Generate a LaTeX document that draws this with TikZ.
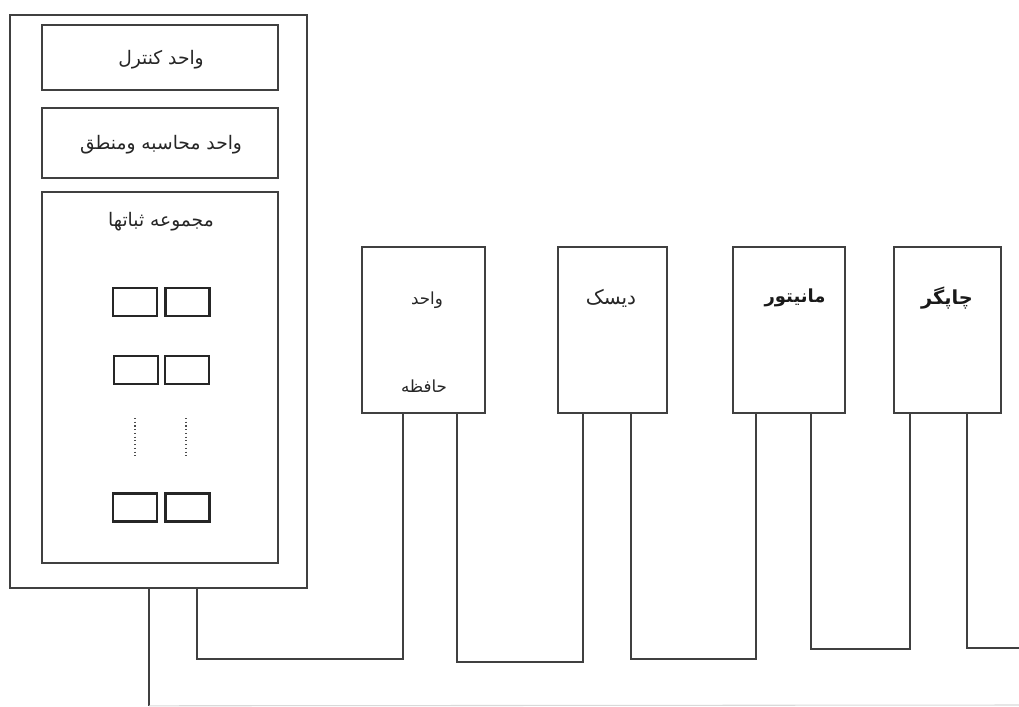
\documentclass[tikz,border=0pt]{standalone}
\usepackage{fontspec}
\newfontfamily\arabicfont[Script=Arabic]{DejaVu Sans}
\TeXXeTstate=1
\usetikzlibrary{calc}
\tikzset{
  box/.style={draw=black!75, line width=1.2pt, rectangle, inner sep=0pt, anchor=center},
  reg/.style={draw=black!85, line width=2pt, rectangle, inner sep=0pt, minimum width=33pt, minimum height=21pt},
  wire/.style={draw=black!75, line width=1.2pt},
  faint/.style={draw=black!15, line width=0.8pt},
  lbl/.style={font=\arabicfont\fontsize{#1}{#1}\selectfont, text=black!85, inner sep=0pt},
  lbl/.default=14,
  blbl/.style={font=\arabicfont\bfseries\fontsize{#1}{#1}\selectfont, text=black!90, inner sep=0pt},
  blbl/.default=14
}
\begin{document}
\begin{tikzpicture}[x=0.75pt,y=-0.75pt]
\useasboundingbox (0,0) rectangle (1019,706);
% CPU outer box
\node[box, minimum width=222.75pt, minimum height=429.75pt] (outer) at (158.5,301.5) {};
\node[box, minimum width=177pt, minimum height=48.75pt] (cu) at (160,57.5) {};
\node[lbl] (cut) at (161,60) {\beginR واحد کنترل\endR};
\node[box, minimum width=177pt, minimum height=52.5pt] (alu) at (160,143) {};
\node[lbl] (alut) at (161,145) {\beginR واحد محاسبه ومنطق\endR};
\node[box, minimum width=177pt, minimum height=278.25pt] (regs) at (160,377.5) {};
\node[lbl] (regt) at (161,222) {\beginR مجموعه ثباتها\endR};
% registers
\node[reg] (r11) at (135,302) {};
\node[reg] (r12) at (187.5,302) {};
\node[reg] (r21) at (136,370) {};
\node[reg] (r22) at (187,370) {};
\node[reg] (r31) at (135,507.5) {};
\node[reg] (r32) at (187.5,507.5) {};
\coordinate (d1a) at (135,418);
\coordinate (d1b) at (135,457);
\coordinate (d2a) at (186,418);
\coordinate (d2b) at (186,457);
\draw[black!70, line width=0.8pt, dotted] (d1a) -- (d1b);
\draw[black!70, line width=0.8pt, dotted] (d2a) -- (d2b);
% peripherals
\node[box, minimum width=92.25pt, minimum height=124.5pt] (mem) at (423.5,330) {};
\node[lbl=12.5] (memt1) at (427,300) {\beginR واحد\endR};
\node[lbl=12.5] (memt2) at (424,386) {\beginR حافظه\endR};
\node[box, minimum width=81.75pt, minimum height=124.5pt] (disk) at (612.5,330) {};
\node[lbl=15] (diskt) at (611,298) {\beginR دیسک\endR};
\node[box, minimum width=84pt, minimum height=124.5pt] (mon) at (789,330) {};
\node[blbl=13.5] (mont) at (795,298) {\beginR مانیتور\endR};
\node[box, minimum width=80.25pt, minimum height=124.5pt] (prn) at (947.5,330) {};
\node[blbl=14.5] (prnt) at (947,298) {\beginR چاپگر\endR};
% connectors
\coordinate (bend) at (1019,705);
\coordinate (rend) at (1019,648);
\draw[wire] ($(outer.south west)+(140,0)$) -- ($(outer.south west)+(140,117)$) coordinate (bl);
\draw[faint] (bl) -- (bend);
\draw[wire] ($(outer.south west)+(188,0)$) -- ++(0,70) -| ($(mem.south west)+(42,0)$);
\draw[wire] ($(mem.south west)+(96,0)$) -- ++(0,248) -| ($(disk.south west)+(26,0)$);
\draw[wire] ($(disk.south west)+(74,0)$) -- ++(0,245) -| ($(mon.south west)+(24,0)$);
\draw[wire] ($(mon.south west)+(79,0)$) -- ++(0,235) -| ($(prn.south west)+(17,0)$);
\draw[wire] ($(prn.south west)+(74,0)$) |- (rend);
\end{tikzpicture}
\end{document}
